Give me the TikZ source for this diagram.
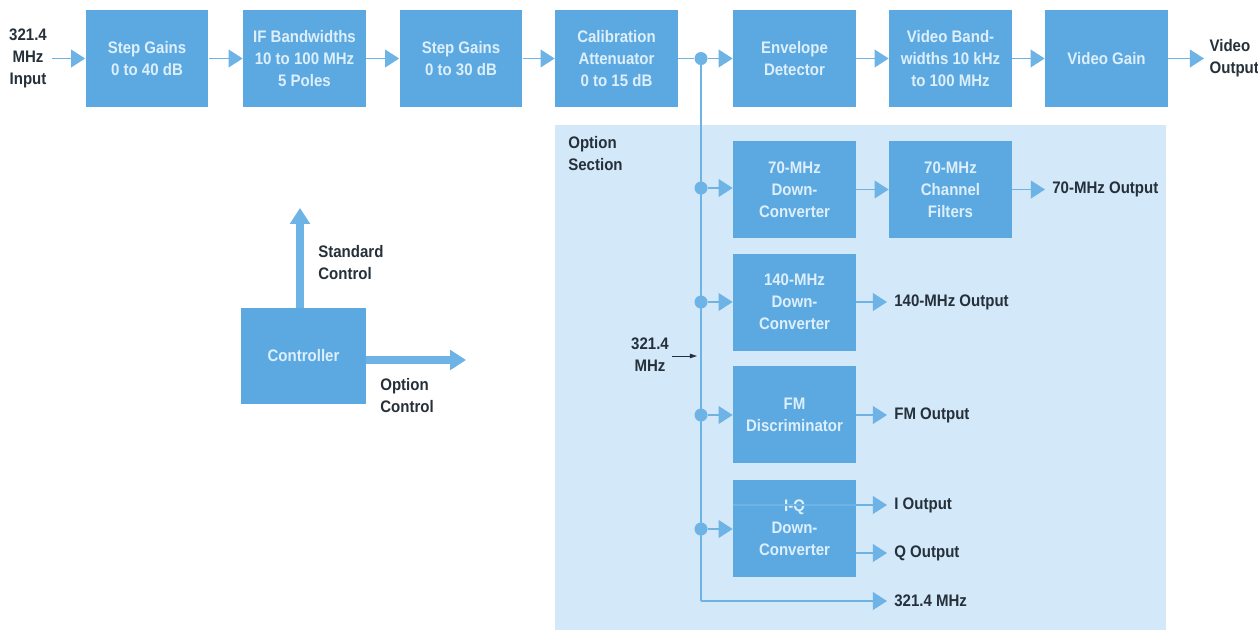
\documentclass[tikz,border=0pt]{standalone}
\usepackage{fontspec}
\setmainfont{Liberation Sans}[FakeStretch=0.9]
\usetikzlibrary{arrows.meta}
\definecolor{boxblue}{HTML}{5CA9E2}
\definecolor{optbg}{HTML}{D3E8F8}
\definecolor{linec}{HTML}{6DB3E6}
\definecolor{boxtext}{HTML}{DDEFFB}
\definecolor{labtext}{HTML}{25303A}
\begin{document}
\begin{tikzpicture}[x=0.02cm,y=-0.02cm,
  font=\fontsize{9.5}{12.5}\selectfont\bfseries,
  blk/.style={fill=boxblue, text=boxtext, minimum width=2.46cm, minimum height=1.94cm, align=center, inner sep=0pt},
  conn/.style={draw=linec, line width=1.1pt, -{Triangle[length=8pt,width=10pt]}},
  wire/.style={draw=linec, line width=1.1pt},
  jdot/.style={circle, fill=linec, minimum size=0.26cm, inner sep=0pt},
  lab/.style={text=labtext, align=left, inner sep=0pt},
  outl/.style={lab, anchor=west, inner xsep=4pt},
  bigarrow/.style={draw=linec, line width=4pt, -{Triangle[length=9pt,width=11pt]}}
]
\useasboundingbox (0,0) rectangle (1258,630);
\fill[white] (0,0) rectangle (1258,630);
% option section background
\fill[optbg] (555,125) rectangle (1166,630);

% top row
\node[blk] (sg1) at (147,58.5) {Step Gains\\0 to 40 dB};
\node[blk] (ifbw) at (304.5,58.5) {IF Bandwidths\\10 to 100 MHz\\5 Poles};
\node[blk] (sg2) at (461,58.5) {Step Gains\\0 to 30 dB};
\node[blk] (cal) at (616.5,58.5) {Calibration\\Attenuator\\0 to 15 dB};
\node[blk] (env) at (794.5,58.5) {Envelope\\Detector};
\node[blk] (vbw) at (950.5,58.5) {Video Band-\\widths 10 kHz\\to 100 MHz};
\node[blk] (vg) at (1106.5,58.5) {Video Gain};

\node[lab, align=center, inner xsep=3pt] (in) at (28,58.5) {321.4\\MHz\\Input};
\node[lab, anchor=west, inner xsep=3pt] (vout) at (1204,58.5) {Video\\Output};

\draw[conn] (in.east) -- (sg1.west);
\draw[conn] (sg1) -- (ifbw);
\draw[conn] (ifbw) -- (sg2);
\draw[conn] (sg2) -- (cal);
\node[jdot] (j0) at (701,58.5) {};
\draw[wire] (cal.east) -- (j0);
\draw[conn] (j0) -- (env.west);
\draw[conn] (env) -- (vbw);
\draw[conn] (vbw) -- (vg);
\draw[conn] (vg.east) -- (vout.west);

% option section
\node[lab, anchor=north west] (opt) at (568,136) {Option\\Section};

\node[blk] (dc70) at (794.5,189.5) {70-MHz\\Down-\\Converter};
\node[blk] (cf70) at (950.5,189.5) {70-MHz\\Channel\\Filters};
\node[blk] (dc140) at (794.5,302) {140-MHz\\Down-\\Converter};
\node[blk] (fm) at (794.5,414.5) {FM\\Discriminator};
\node[blk] (iq) at (794.5,528) {I-Q\\Down-\\Converter};

\node[jdot] (j1) at (701,188) {};
\node[jdot] (j2) at (701,302) {};
\node[jdot] (j3) at (701,415) {};
\node[jdot] (j4) at (701,529) {};
\coordinate (jc) at (701,601);

\draw[wire] (j0.center) -- (jc);
\draw[conn] (j1) -- (j1 -| dc70.west);
\draw[conn] (j2) -- (j2 -| dc140.west);
\draw[conn] (j3) -- (j3 -| fm.west);
\draw[conn] (j4) -- (j4 -| iq.west);

\draw[conn] (dc70) -- (cf70);
\node[outl] (o70) at (1045,189.5) {70-MHz Output};
\draw[conn] (cf70.east) -- (o70.west);

\node[outl] (o140) at (887,302) {140-MHz Output};
\draw[conn] (dc140.east |- o140) -- (o140.west);

\node[outl] (ofm) at (887,415) {FM Output};
\draw[conn] (fm.east |- ofm) -- (ofm.west);

\node[outl] (oi) at (887,505) {I Output};
\draw[conn] (iq.west |- oi) -- (oi.west);
\node[outl] (oq) at (887,553) {Q Output};
\draw[conn] (iq.east |- oq) -- (oq.west);

\node[outl] (o321) at (887,601) {321.4 MHz};
\draw[conn] (jc) -- (o321.west);

\node[lab, align=center] (m321) at (650,355) {321.4\\MHz};
\coordinate (m321tip) at (697,356);
\draw[labtext, line width=0.5pt, -{Triangle[length=4pt,width=2.5pt]}] (672,356) -- (m321tip);

% controller
\node[blk, minimum width=2.5cm, minimum height=1.92cm] (ctl) at (303.5,356) {Controller};
\coordinate (stdtip) at (300,208);
\coordinate (opttip) at (466,360);
\draw[bigarrow] (ctl.north -| stdtip) -- (stdtip);
\draw[bigarrow] (ctl.east |- opttip) -- (opttip);
\node[lab, anchor=west] (stdc) at (318,263) {Standard\\Control};
\node[lab, anchor=west] (optc) at (380,396) {Option\\Control};
\end{tikzpicture}
\end{document}
